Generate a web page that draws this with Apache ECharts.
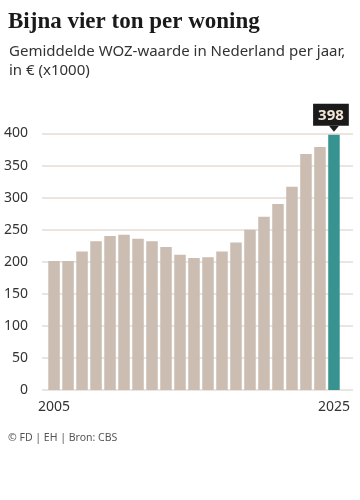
<!DOCTYPE html>
<html><head><meta charset="utf-8">
<script src="https://cdn.jsdelivr.net/npm/echarts@6/dist/echarts.min.js"></script>
<style>html,body{margin:0;padding:0;background:#fff}#c{width:360px;height:500px}</style>
</head><body><div id="c"></div>
<script>
const years = [2005,2006,2007,2008,2009,2010,2011,2012,2013,2014,2015,2016,2017,2018,2019,2020,2021,2022,2023,2024,2025];
const values = [201,201,216,232,240,242,236,232,223,211,206,207,216,230,250,270,290,317,368,379,398];
const yTicks = [0,50,100,150,200,250,300,350,400];
const xLabels = [2005,2025];
const highlightYear = 2025;

const BEIGE = '#cbbdb1', TEAL = '#36938f';
const data = years.map((y,i)=>{
  const o = {value:[y, values[i]], itemStyle:{color: y===highlightYear?TEAL:BEIGE}};
  if (y===highlightYear) o.label = {show:true};
  return o;
});
const sans = 'Noto Sans';
const chart = echarts.init(document.getElementById('c'), null, {renderer:'canvas'});
chart.setOption({
  animation:false,
  title:[
    {text:'Bijna vier ton per woning', left:3, top:6,
     textStyle:{fontFamily:'Liberation Serif', fontWeight:'bold', fontSize:23, color:'#1a1a1a'}},
    {text:'Gemiddelde WOZ-waarde in Nederland per jaar,\nin € (x1000)', left:4, top:37,
     textStyle:{fontFamily:sans, fontWeight:'normal', fontSize:15, lineHeight:19, color:'#333'}},
    {text:'© FD | EH | Bron: CBS', left:3, top:428,
     textStyle:{fontFamily:sans, fontWeight:'normal', fontSize:10.5, color:'#555'}}
  ],
  grid:{left:42, right:7, top:133.5, bottom:110},
  xAxis:{type:'value', min:2004.14, max:2026.36,
    axisLine:{show:false}, axisTick:{show:false}, splitLine:{show:false},
    axisLabel:{customValues:xLabels, formatter:v=>String(v), fontFamily:sans, fontSize:14, color:'#333', margin:10}},
  yAxis:{type:'value', min:0, max:400, interval:50,
    axisLine:{show:false}, axisTick:{show:false},
    splitLine:{lineStyle:{color:'#e6ddd5', width:1.5}},
    axisLabel:{fontFamily:sans, fontSize:14, color:'#333', margin:14}},
  series:[{type:'bar', data:data, barWidth:11.5,
    label:{show:false, position:'top', distance:9, offset:[-3,0], backgroundColor:'#1a1a1a',
      color:'#f3e6d8', fontFamily:sans, fontWeight:'bold', fontSize:15, lineHeight:16,
      padding:[4,5,2,5], formatter:p=>p.value[1]},
    markPoint:{symbol:'triangle', symbolRotate:180, symbolSize:[10,6], symbolOffset:[0,-6],
      itemStyle:{color:'#1a1a1a'}, label:{show:false}, z:10,
      data:[{coord:[highlightYear, values[years.indexOf(highlightYear)]]}]}
  }]
});
</script></body></html>
